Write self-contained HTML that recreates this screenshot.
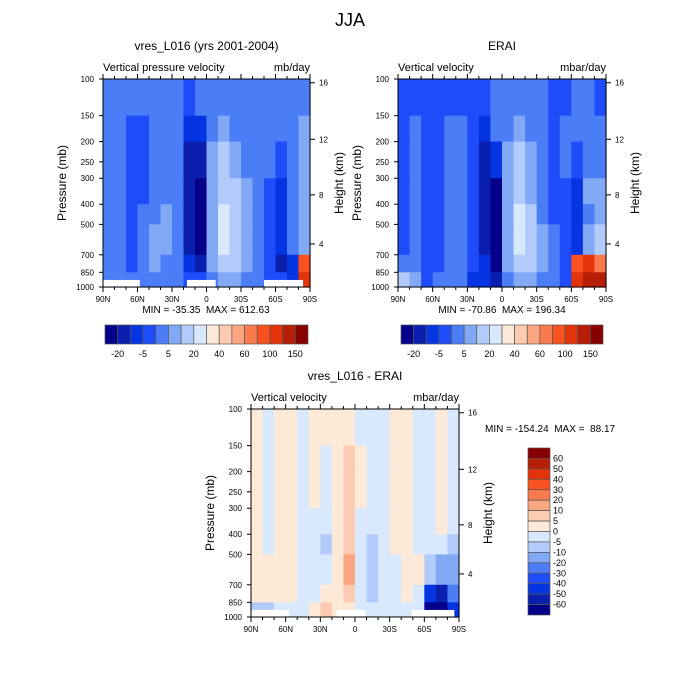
<!DOCTYPE html>
<html><head><meta charset="utf-8"><style>
body{margin:0;background:#fff;}
svg{font-family:"Liberation Sans",sans-serif;display:block}
</style></head><body>
<svg id="chart" width="700" height="700" viewBox="0 0 700 700" xmlns="http://www.w3.org/2000/svg">
<text x="350" y="26" font-size="18" text-anchor="middle">JJA</text>
</svg>
<script>
const palette = ["#05008a","#0a1fae","#0535e3","#1d4cf8","#4a7df6","#82a9f6","#b3cbfa","#d8e8fd","#fde9d7","#fccbb1","#fba680","#f97a4c","#f9521f","#e2330a","#b71e06","#870101"];
const latCols = [85,75,65,55,45,35,25,15,5,-5,-15,-25,-35,-45,-55,-65,-75,-85];
const pBounds = [100,150,200,300,400,500,700,850,1000];
const pTicks = [100,150,200,250,300,400,500,700,850,1000];
const latTicks = [90,60,30,0,-30,-60,-90];
const latTickLabels = ["90N","60N","30N","0","30S","60S","90S"];
const hTicks = [16,12,8,4];
const hTickFrac = [0.018,0.29,0.557,0.793];
const hBarLabels = ["-20","-5","5","20","40","60","100","150"];
const vBarLabels = ["60","50","40","30","20","10","5","0","-5","-10","-20","-30","-40","-50","-60"];
const modelField = [
[4,4,4,4,4,4,4,3,4,4,4,4,4,4,4,4,4,4],
[4,4,3,3,4,4,4,2,2,4,5,4,4,4,4,4,4,5],
[4,4,3,3,4,4,4,1,1,5,6,5,4,4,4,3,4,5],
[4,4,3,3,4,4,4,1,0,5,6,6,5,4,3,2,4,5],
[4,4,3,4,4,5,4,1,0,5,7,6,5,4,3,2,4,5],
[4,4,3,4,5,5,4,1,0,5,7,6,5,4,3,2,4,5],
[4,4,3,4,5,4,4,2,1,5,6,6,5,4,3,1,2,12],
[4,4,4,4,4,4,4,3,3,4,5,5,4,4,3,3,2,13]];
const eraiField = [
[3,3,3,3,3,3,3,3,4,4,4,4,4,3,3,4,4,3],
[3,4,3,3,4,4,3,2,4,4,5,4,4,3,4,4,4,4],
[3,4,3,3,4,4,3,1,2,5,6,5,4,3,4,3,4,4],
[3,4,3,3,4,4,3,1,0,5,6,5,4,3,3,2,5,5],
[3,4,3,3,4,4,3,1,0,5,7,6,4,3,3,2,4,5],
[3,4,3,3,4,4,3,1,0,5,7,6,5,4,3,2,5,6],
[4,4,3,3,4,4,3,2,0,5,6,6,5,4,3,12,13,11],
[6,5,3,4,4,4,2,2,1,4,5,5,4,4,3,13,14,14]];
const diffField = [
[8,7,8,8,7,8,8,8,8,7,7,7,8,8,7,7,8,7],
[8,7,8,8,7,8,7,8,9,8,7,7,8,8,7,7,8,7],
[8,7,8,8,7,8,7,8,9,8,7,7,8,8,7,7,8,7],
[8,7,8,8,7,7,7,8,9,7,7,7,8,8,7,7,8,7],
[8,7,8,8,7,7,6,8,9,7,6,7,8,8,7,7,7,6],
[8,8,8,8,7,7,7,8,10,7,6,7,7,8,8,6,5,5],
[8,8,8,8,7,7,8,8,9,7,6,7,7,8,7,2,1,4],
[6,6,7,7,7,8,9,8,8,7,7,7,7,7,7,0,0,2]];
const modelMissing = [[90,58],[17,-8],[-50,-84]];
const eraiMissing = [];
const diffMissing = [[90,57],[16,-9],[-49,-86]];

const svg = document.getElementById('chart');
const NS = "http://www.w3.org/2000/svg";
function mk(tag, attrs, parent){ const e=document.createElementNS(NS,tag); for(const k in attrs) e.setAttribute(k,attrs[k]); (parent||svg).appendChild(e); return e; }
function txt(x,y,s,size,anchor,parent,extra){ const t=mk('text',Object.assign({x:x,y:y,'font-size':size,'text-anchor':anchor||'start'},extra||{}),parent); t.textContent=s; return t; }

function drawPanel(P){
  const g = mk('g',{});
  
  
  const W=P.r-P.l, H=P.b-P.t;
  const xs = lat => P.l + (90-lat)/180*W;
  const ys = p => P.t + Math.log10(p/100)*H;
  const cellW = W/latCols.length;
  P.field.forEach((row,ri)=>{
    row.forEach((v,ci)=>{
      const x = xs(latCols[ci]+5);
      const c = mk('rect',{x:x.toFixed(2),y:ys(pBounds[ri]).toFixed(2),width:(cellW+0.6).toFixed(2),height:(ys(pBounds[ri+1])-ys(pBounds[ri])+0.6).toFixed(2),fill:palette[v]},g);
      
      
    });
  });
  P.missing.forEach(m=>{
    const r = mk('rect',{x:xs(m[0]),y:ys(925),width:xs(m[1])-xs(m[0]),height:ys(1000)-ys(925),fill:'#fff'},g);
    
    
  });
  mk('rect',{x:P.l,y:P.t,width:W,height:H,fill:'none',stroke:'#000','stroke-width':1},g);
  pTicks.forEach(p=>{
    const y=ys(p);
    mk('line',{x1:P.l-4,x2:P.l,y1:y,y2:y,stroke:'#000'},g);
    txt(P.l-9,y+3,String(p),8,'end',g);
  });
  for(let lat=90;lat>=-90;lat-=10){
    const x=xs(lat); const major=(lat%30===0);
    mk('line',{x1:x,x2:x,y1:P.b,y2:P.b+(major?5:3),stroke:'#000'},g);
    mk('line',{x1:x,x2:x,y1:P.t,y2:P.t-(major?5:3),stroke:'#000'},g);
  }
  latTicks.forEach((lat,i)=>txt(xs(lat),P.b+15,latTickLabels[i],8,'middle',g));
  hTicks.forEach((h,i)=>{
    const y=P.t+hTickFrac[i]*H;
    mk('line',{x1:P.r,x2:P.r+5,y1:y,y2:y,stroke:'#000'},g);
    txt(P.r+9,y+3,String(h),8,'start',g);
  });
  txt((P.l+P.r)/2,P.t-29,P.title,12,'middle',g);
  txt(P.l,P.t-8,P.left,11,'start',g);
  txt(P.r,P.t-8,P.unit,11,'end',g);
  txt(P.l-37,(P.t+P.b)/2,'Pressure (mb)',12,'middle',g,{transform:`rotate(-90 ${P.l-37} ${(P.t+P.b)/2})`});
  txt(P.r+33,(P.t+P.b)/2,'Height (km)',12,'middle',g,{transform:`rotate(-90 ${P.r+33} ${(P.t+P.b)/2})`});
}

function hBar(x0,y0,w,h){
  const g=mk('g',{});
  
  
  const bw=w/16;
  palette.forEach((c,i)=>mk('rect',{x:x0+i*bw,y:y0,width:bw,height:h,fill:c,stroke:'#555','stroke-width':0.7},g));
  hBarLabels.forEach((s,i)=>txt(x0+(2*i+1)*bw,y0+h+13,s,9,'middle',g));
}
function vBar(x0,y0,w,h){
  const g=mk('g',{});
  
  
  const bh=h/16;
  palette.slice().reverse().forEach((c,i)=>mk('rect',{x:x0,y:y0+i*bh,width:w,height:bh,fill:c,stroke:'#555','stroke-width':0.7},g));
  vBarLabels.forEach((s,i)=>txt(x0+w+3,y0+(i+1)*bh+3,s,9,'start',g));
}

drawPanel({name:'model-panel',l:103,r:310,t:79,b:287,field:modelField,missing:modelMissing,title:'vres_L016 (yrs 2001-2004)',left:'Vertical pressure velocity',unit:'mb/day'});
drawPanel({name:'erai-panel',l:398,r:606,t:79,b:287,field:eraiField,missing:eraiMissing,title:'ERAI',left:'Vertical velocity',unit:'mbar/day'});
drawPanel({name:'diff-panel',l:251,r:459,t:409,b:617,field:diffField,missing:diffMissing,title:'vres_L016 - ERAI',left:'Vertical velocity',unit:'mbar/day'});
txt(206,313,'MIN = -35.35\u00a0 MAX = 612.63',10,'middle');
txt(502,313,'MIN = -70.86\u00a0 MAX = 196.34',10,'middle');
txt(485,432,'MIN = -154.24\u00a0 MAX = \u00a088.17',10,'start');
hBar(105,325,203,19);
hBar(401,325,202,19);
vBar(528,448,22,167);
</script>
</body></html>
